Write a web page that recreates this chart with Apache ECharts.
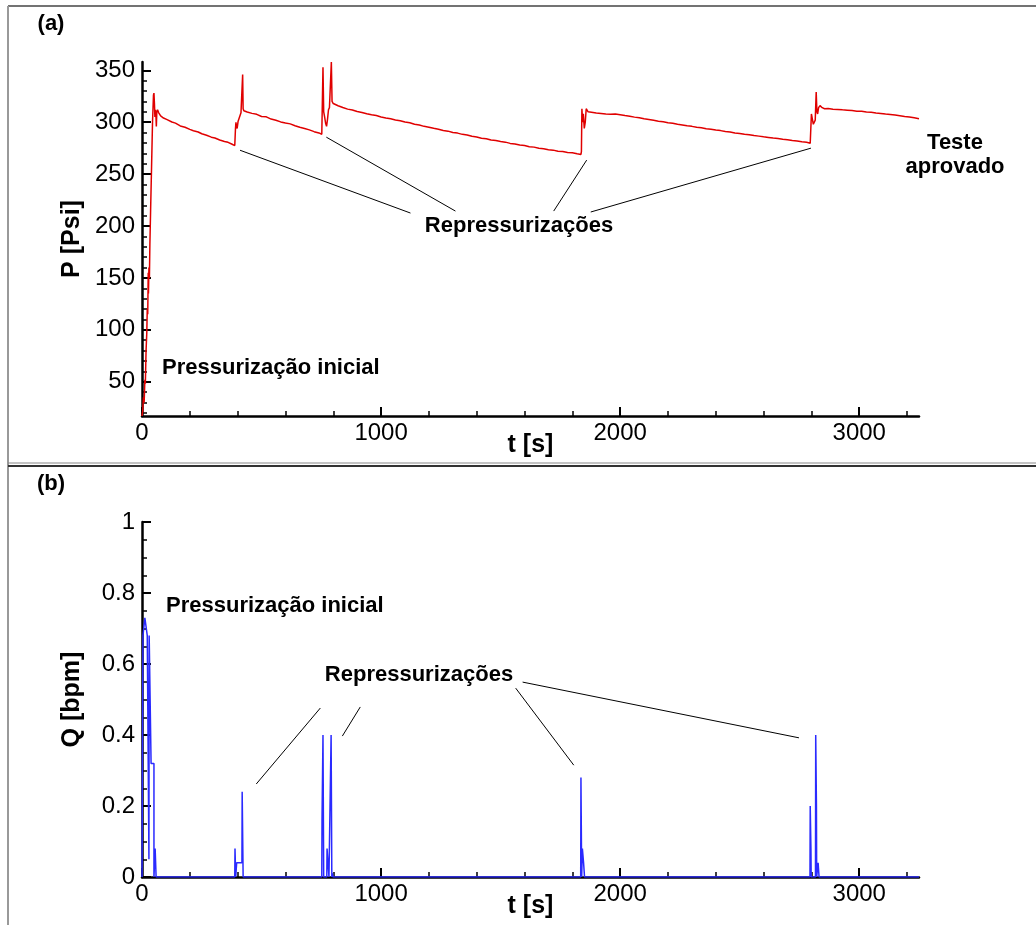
<!DOCTYPE html>
<html><head><meta charset="utf-8">
<script src="https://cdn.jsdelivr.net/npm/echarts@6/dist/echarts.min.js"></script>
<style>html,body{margin:0;padding:0;background:#fff}#c{width:1036px;height:925px}</style>
</head><body><div id="c"></div>
<script>
// ---- data ----
var pressureT = [0,3,6,9,12,14,17,20,22,24,26,27,29,31,33,36,40,44,48,50,52,54,56,58,60,62,65,70,78,90,
105,125,140,160,180,200,215,235,250,270,290,305,325,345,360,375,388,
390,391,393,395,398,402,408,414,419,421,423,426,440,460,480,500,520,540,560,580,600,620,640,660,680,700,720,740,752,
754,757,760,764,768,772,776,780,784,789,792,795,800,820,840,860,880,900,920,940,960,980,1000,1020,1040,1060,1080,1100,1120,1140,1160,1180,1200,1220,1240,1260,1280,1300,1320,1340,1360,1380,1400,1420,1440,1460,1480,1500,1520,1540,1560,1580,1600,1620,1640,1660,1680,1700,1720,1740,1760,1780,1800,1820,1836,
1838,1840,1843,1846,1850,1854,1858,1862,1866,1880,1900,1920,1940,1960,1980,2000,2020,2040,2060,2080,2100,2120,2140,2160,2180,2200,2220,2240,2260,2280,2300,2320,2340,2360,2380,2400,2420,2440,2460,2480,2500,2520,2540,2560,2580,2600,2620,2640,2660,2680,2700,2720,2740,2760,2780,2795,
2797,2800,2804,2808,2812,2816,2820,2823,2826,2830,2836,2845,2855,2870,2890,2910,2930,2950,2970,2990,3010,3030,3050,3070,3090,3110,3130,3150,3170,3190,3210,3230,3250];
var pressureP = [17,22,35,30,52,48,80,97,120,115,155,135,160,150,183,215,257,300,326,328,318,305,312,308,296,310,312,309,306,304,
302.5,300.2,299.1,296.4,295.2,293.1,291.8,290.6,288.9,287.4,285.6,284.8,282.9,281.5,280.6,279.0,277.5,
277,294,300,296,294,301,305,309,310,346,313,311,309.8,308.5,307.6,305.5,305.2,303.0,301.9,300.3,299.2,298.4,296.6,295.1,294.0,292.6,290.9,289.7,288.4,
290,353,310,305,299,296,303,312,314,315,358,320,318,315.9,314.2,312.6,311.8,310.3,309.4,308.2,307.1,306.4,305.0,304.1,303.3,302.1,301.4,300.2,299.5,298.1,297.3,296.0,295.2,294.1,293.3,292.0,291.4,290.1,289.5,288.3,287.6,286.4,285.8,284.6,284.1,282.9,282.3,281.4,280.8,279.6,279.1,278.0,277.6,276.4,276.0,274.9,274.5,273.5,273.1,272.1,271.7,270.9,270.5,269.6,269.0,
272,313,300,308,294,300,313,312,310,309.6,308.8,308.5,308.0,307.6,307.9,307.2,306.4,305.8,304.9,304.2,303.3,302.6,301.8,301.0,300.4,299.5,298.9,298.0,297.4,296.5,296.0,295.1,294.6,293.7,293.2,292.4,291.9,291.0,290.6,289.6,289.2,288.4,287.9,287.1,286.6,285.9,285.3,284.7,284.2,283.5,283.0,282.4,281.9,281.1,280.6,279.8,
280,308,303,298,297,302,329,310,308,314,316,314,313,313.2,312.5,312.3,311.9,311.6,311.2,310.6,310.5,309.8,309.5,308.9,308.5,307.8,307.4,306.9,306.3,305.6,305.0,304.2,303.3];

var flowT = [0,4,4,10,12,20,22,29,29,30,30,38,38,50,50,54,55,59,59,
388,389,391,392,395,396,418,419,422,423,
752,753,756,757,759,760,773,774,777,778,781,782,790,791,793,794,796,797,799,
1835,1836,1838,1839,1841,1842,1846,1847,1850,1851,
2794,2795,2797,2798,2799,2817,2818,2820,2821,2822,2827,2828,2831,2832,3250];
var flowQ = [0,0,0.68,0.68,0.73,0.73,0.68,0.68,0.05,0.05,0.68,0.68,0.32,0.32,0,0,0.08,0.08,0,
0,0.08,0.08,0,0,0.04,0.04,0.24,0.24,0,
0,0.16,0.16,0.40,0.40,0,0,0.08,0.08,0.04,0.04,0,0,0.40,0.40,0,0,0.01,0,
0,0.28,0.28,0,0,0.08,0.08,0.04,0.04,0,
0,0.20,0.20,0.08,0,0,0.40,0.40,0.20,0,0,0.04,0.04,0,0];

var xMajorTicks = [0,1000,2000,3000];
var xMinorTicks = [200,400,600,800,1200,1400,1600,1800,2200,2400,2600,2800,3200];
var pMajorTicks = [50,100,150,200,250,300,350];
var pMinorTicks = [20,30,40,60,70,80,90,110,120,130,140,160,170,180,190,210,220,230,240,260,270,280,290,310,320,330,340];

// annotation leader lines [t0, v0, t1, v1]
var pLeaders = [[410,273,1123,212.5],[771,285.6,1311,214.4],[1860,263.5,1722,214.4],[2798,275,1877,213.5]];
var qLeaders = [[746,0.476,478,0.262],[913,0.479,838,0.397],[1563,0.532,1806,0.315],[1592,0.549,2748,0.392]];

// ---- chart ----
var FONT = '"Liberation Sans", Arial, sans-serif';
function zip(a,b){return a.map(function(v,i){return [v,b[i]];});}
function leaders(arr){return arr.map(function(l){return [{coord:[l[0],l[1]]},{coord:[l[2],l[3]]}];});}
function plain(v){return String(v);}

function xMain(grid){
  return {type:'value', gridIndex:grid, min:0, max:3250, position:'bottom',
    axisLine:{show:true, onZero:false, lineStyle:{color:'#000', width:2.5}},
    axisTick:{show:true, inside:true, length:9, customValues:xMajorTicks, lineStyle:{color:'#000', width:2}},
    axisLabel:{customValues:xMajorTicks, formatter:plain, color:'#000', fontSize:24, fontFamily:FONT, margin:5},
    splitLine:{show:false},
    name:'t [s]', nameLocation:'middle', nameGap:17, nameMoveOverlap:false,
    nameTextStyle:{color:'#000', fontSize:25, fontWeight:'bold', fontFamily:FONT}};
}
function xMinor(grid){
  return {type:'value', gridIndex:grid, min:0, max:3250, position:'bottom', offset:0,
    axisLine:{show:false}, axisLabel:{show:false}, splitLine:{show:false},
    axisTick:{show:true, inside:true, length:5, customValues:xMinorTicks, lineStyle:{color:'#000', width:1.5}}};
}

var option = {
  animation:false,
  backgroundColor:'#fff',
  grid:[
    {left:142, right:117, top:62, height:354, containLabel:false},
    {left:142, right:117, top:522, height:355, containLabel:false}
  ],
  xAxis:[xMain(0), xMinor(0), xMain(1), xMinor(1)],
  yAxis:[
    {type:'value', gridIndex:0, min:17, max:358, position:'left',
     axisLine:{show:true, onZero:false, lineStyle:{color:'#000', width:2.5}},
     axisTick:{show:true, inside:true, length:9, customValues:pMajorTicks, lineStyle:{color:'#000', width:2}},
     axisLabel:{customValues:pMajorTicks, formatter:plain, color:'#000', fontSize:24, fontFamily:FONT, margin:7},
     splitLine:{show:false},
     name:'P [Psi]', nameLocation:'middle', nameGap:57, nameMoveOverlap:false,
     nameTextStyle:{color:'#000', fontSize:25, fontWeight:'bold', fontFamily:FONT}},
    {type:'value', gridIndex:0, min:17, max:358, position:'left', offset:0,
     axisLine:{show:false}, axisLabel:{show:false}, splitLine:{show:false},
     axisTick:{show:true, inside:true, length:5, customValues:pMinorTicks, lineStyle:{color:'#000', width:1.5}}},
    {type:'value', gridIndex:1, min:0, max:1, interval:0.2, position:'left',
     axisLine:{show:true, onZero:false, lineStyle:{color:'#000', width:2.5}},
     axisTick:{show:true, inside:true, length:9, lineStyle:{color:'#000', width:2}},
     minorTick:{show:true, splitNumber:4, length:5, lineStyle:{color:'#000', width:1.5}},
     axisLabel:{color:'#000', fontSize:24, fontFamily:FONT, margin:7},
     splitLine:{show:false}, minorSplitLine:{show:false},
     name:'Q [bpm]', nameLocation:'middle', nameGap:57, nameMoveOverlap:false,
     nameTextStyle:{color:'#000', fontSize:25, fontWeight:'bold', fontFamily:FONT}},
    {type:'value', gridIndex:1, min:0, max:1, position:'left', offset:0, show:false}
  ],
  series:[
    {type:'line', xAxisIndex:0, yAxisIndex:0, data:zip(pressureT, pressureP), showSymbol:false, symbol:'none',
     lineStyle:{color:'#e00000', width:1.5}, itemStyle:{color:'#e00000'}, silent:true,
     markLine:{silent:true, symbol:['none','none'], label:{show:false}, animation:false,
       lineStyle:{color:'#000', width:1, type:'solid'}, emphasis:{disabled:true}, data:leaders(pLeaders)}},
    {type:'line', xAxisIndex:2, yAxisIndex:2, data:zip(flowT, flowQ), showSymbol:false, symbol:'none',
     lineStyle:{color:'#2a2aff', width:1.5}, itemStyle:{color:'#2a2aff'}, silent:true,
     markLine:{silent:true, symbol:['none','none'], label:{show:false}, animation:false,
       lineStyle:{color:'#000', width:1, type:'solid'}, emphasis:{disabled:true}, data:leaders(qLeaders)}}
  ],
  graphic:[
    {type:'line', shape:{x1:8, y1:6, x2:1036, y2:6}, style:{stroke:'#444', lineWidth:1.5}, silent:true},
    {type:'line', shape:{x1:8, y1:6, x2:8, y2:925}, style:{stroke:'#999', lineWidth:2}, silent:true},
    {type:'line', shape:{x1:8, y1:463, x2:1036, y2:463}, style:{stroke:'#888', lineWidth:1}, silent:true},
    {type:'line', shape:{x1:8, y1:466, x2:1036, y2:466}, style:{stroke:'#333', lineWidth:2}, silent:true},
    {type:'text', x:51, y:24, style:{text:'(a)', fill:'#000', font:'bold 22px '+FONT, textAlign:'center', textVerticalAlign:'middle'}},
    {type:'text', x:51, y:484, style:{text:'(b)', fill:'#000', font:'bold 22px '+FONT, textAlign:'center', textVerticalAlign:'middle'}},
    {type:'text', x:162, y:368, style:{text:'Pressurização inicial', fill:'#000', font:'bold 22px '+FONT, textAlign:'left', textVerticalAlign:'middle'}},
    {type:'text', x:519, y:226, style:{text:'Repressurizações', fill:'#000', font:'bold 22px '+FONT, textAlign:'center', textVerticalAlign:'middle'}},
    {type:'text', x:955, y:143, style:{text:'Teste', fill:'#000', font:'bold 22px '+FONT, textAlign:'center', textVerticalAlign:'middle'}},
    {type:'text', x:955, y:167, style:{text:'aprovado', fill:'#000', font:'bold 22px '+FONT, textAlign:'center', textVerticalAlign:'middle'}},
    {type:'text', x:166, y:606, style:{text:'Pressurização inicial', fill:'#000', font:'bold 22px '+FONT, textAlign:'left', textVerticalAlign:'middle'}},
    {type:'text', x:419, y:675, style:{text:'Repressurizações', fill:'#000', font:'bold 22px '+FONT, textAlign:'center', textVerticalAlign:'middle'}}
  ]
};
var chart = echarts.init(document.getElementById('c'), null, {renderer:'canvas'});
chart.setOption(option);
</script>
</body></html>
